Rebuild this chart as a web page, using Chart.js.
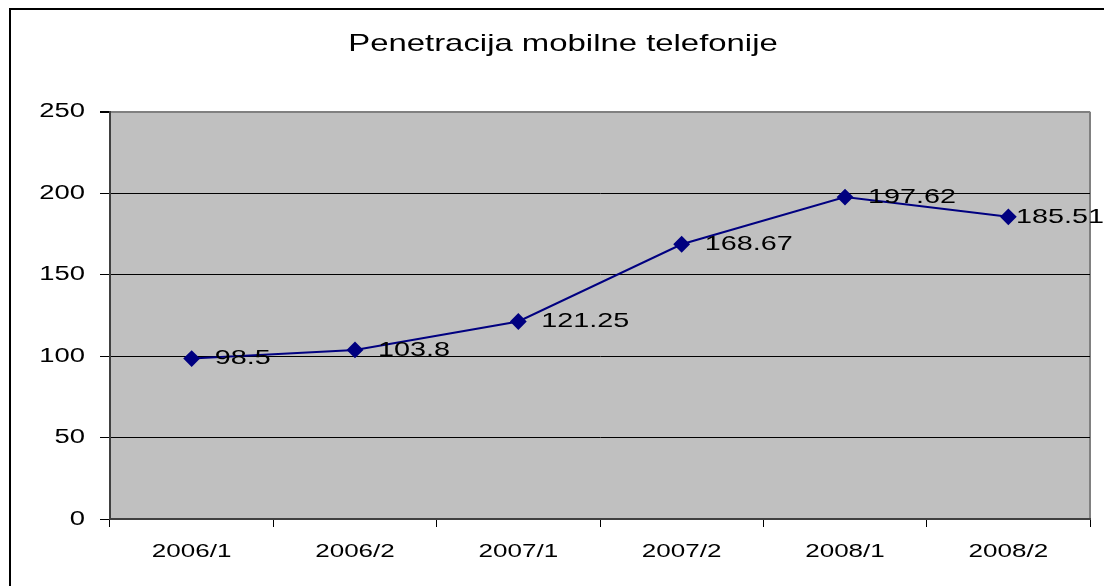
<!DOCTYPE html>
<html lang="hr">
<head>
    <meta charset="UTF-8">
    <title>Penetracija mobilne telefonije</title>
    <script src="https://cdn.jsdelivr.net/npm/chart.js"></script>
    <style>
        html, body {
            margin: 0;
            padding: 0;
            background: #ffffff;
            overflow: hidden;
            width: 1104px;
            height: 586px;
        }
        .frame {
            position: absolute;
            left: 9px;
            top: 8px;
            width: 1300px;
            height: 800px;
            border-left: 2px solid #000;
            border-top: 2px solid #000;
        }
        #chart {
            position: absolute;
            left: 0;
            top: 0;
        }
    </style>
</head>
<body>

<div class="frame"></div>
<canvas id="chart" width="1126" height="586"></canvas>

<script>
    // data
    const periods = ['2006/1', '2006/2', '2007/1', '2007/2', '2008/1', '2008/2'];
    const penetration = [98.5, 103.8, 121.25, 168.67, 197.62, 185.51];
    const yTicks = [0, 50, 100, 150, 200, 250];

    const fontFamily = '"Liberation Sans", Arial, sans-serif';
    const textStretch = 1.37; // the original text is drawn stretched sideways

    // stretch all canvas text horizontally around its anchor point
    const stretchText = {
        id: 'stretchText',
        beforeInit(chart) {
            const ctx = chart.ctx;
            if (ctx._stretched) return;
            const orig = ctx.fillText;
            ctx.fillText = function (t, x, y, maxW) {
                this.save();
                this.translate(x, y);
                this.scale(textStretch, 1);
                if (maxW === undefined) orig.call(this, t, 0, 0);
                else orig.call(this, t, 0, 0, maxW / textStretch);
                this.restore();
            };
            ctx._stretched = true;
        }
    };

    // grey plot area with the grey right edge
    const plotArea = {
        id: 'plotArea',
        beforeDraw(chart) {
            const { ctx, chartArea: a } = chart;
            ctx.save();
            ctx.fillStyle = '#c0c0c0';
            ctx.fillRect(a.left, a.top, a.right - a.left, a.bottom - a.top);
            ctx.strokeStyle = '#808080';
            ctx.lineWidth = 2;
            ctx.beginPath();
            ctx.moveTo(a.right, a.top);
            ctx.lineTo(a.right, a.bottom);
            ctx.stroke();
            ctx.restore();
        }
    };

    // value labels to the right of each point
    const pointLabels = {
        id: 'pointLabels',
        afterDatasetsDraw(chart) {
            const ctx = chart.ctx;
            const meta = chart.getDatasetMeta(0);
            ctx.save();
            ctx.font = '21px ' + fontFamily;
            ctx.fillStyle = '#000';
            ctx.textAlign = 'left';
            ctx.textBaseline = 'middle';
            meta.data.forEach((pt, i) => {
                const txt = String(penetration[i]);
                const w = ctx.measureText(txt).width * textStretch;
                const x = Math.min(pt.x + 23, 1104 - w);
                ctx.fillText(txt, x, pt.y);
            });
            ctx.restore();
        }
    };

    new Chart(document.getElementById('chart'), {
        type: 'line',
        data: {
            labels: periods,
            datasets: [{
                label: 'Penetracija',
                data: penetration,
                borderColor: '#000080',
                backgroundColor: '#000080',
                borderWidth: 2,
                tension: 0,
                fill: false,
                pointStyle: 'rectRot',
                pointRadius: 7,
                pointHoverRadius: 7,
                pointBackgroundColor: '#000080',
                pointBorderColor: '#000080'
            }]
        },
        options: {
            responsive: false,
            animation: false,
            devicePixelRatio: 1,
            layout: { padding: 0 },
            plugins: {
                legend: { display: false },
                tooltip: { enabled: false },
                title: {
                    display: true,
                    text: 'Penetracija mobilne telefonije',
                    color: '#000',
                    font: { family: fontFamily, size: 24, weight: 'normal' },
                    padding: { top: 30, bottom: 53 }
                }
            },
            scales: {
                x: {
                    offset: true,
                    grid: {
                        offset: true,
                        drawOnChartArea: false,
                        drawTicks: true,
                        tickLength: 8,
                        tickColor: '#000'
                    },
                    border: { color: '#404040', width: 2 },
                    ticks: {
                        color: '#000',
                        padding: 13,
                        maxRotation: 0,
                        font: { family: fontFamily, size: 19 }
                    },
                    afterFit(scale) { scale.height = 67; }
                },
                y: {
                    min: 0,
                    max: 250,
                    afterBuildTicks(scale) {
                        scale.ticks = yTicks.map(v => ({ value: v }));
                    },
                    grid: {
                        color: c => (c.tick && c.tick.value === 250) ? '#808080' : '#000',
                        lineWidth: c => (c.tick && c.tick.value === 250) ? 2 : 1,
                        tickLength: 10,
                        tickColor: '#000'
                    },
                    border: { color: '#404040', width: 2 },
                    ticks: {
                        color: '#000',
                        padding: 15,
                        font: { family: fontFamily, size: 20 }
                    },
                    afterFit(scale) { scale.width = 110; }
                },
                yRight: {
                    position: 'right',
                    grid: { display: false },
                    border: { display: false },
                    ticks: { display: false },
                    afterFit(scale) { scale.width = 36; }
                }
            }
        },
        plugins: [stretchText, plotArea, pointLabels]
    });
</script>

</body>
</html>
